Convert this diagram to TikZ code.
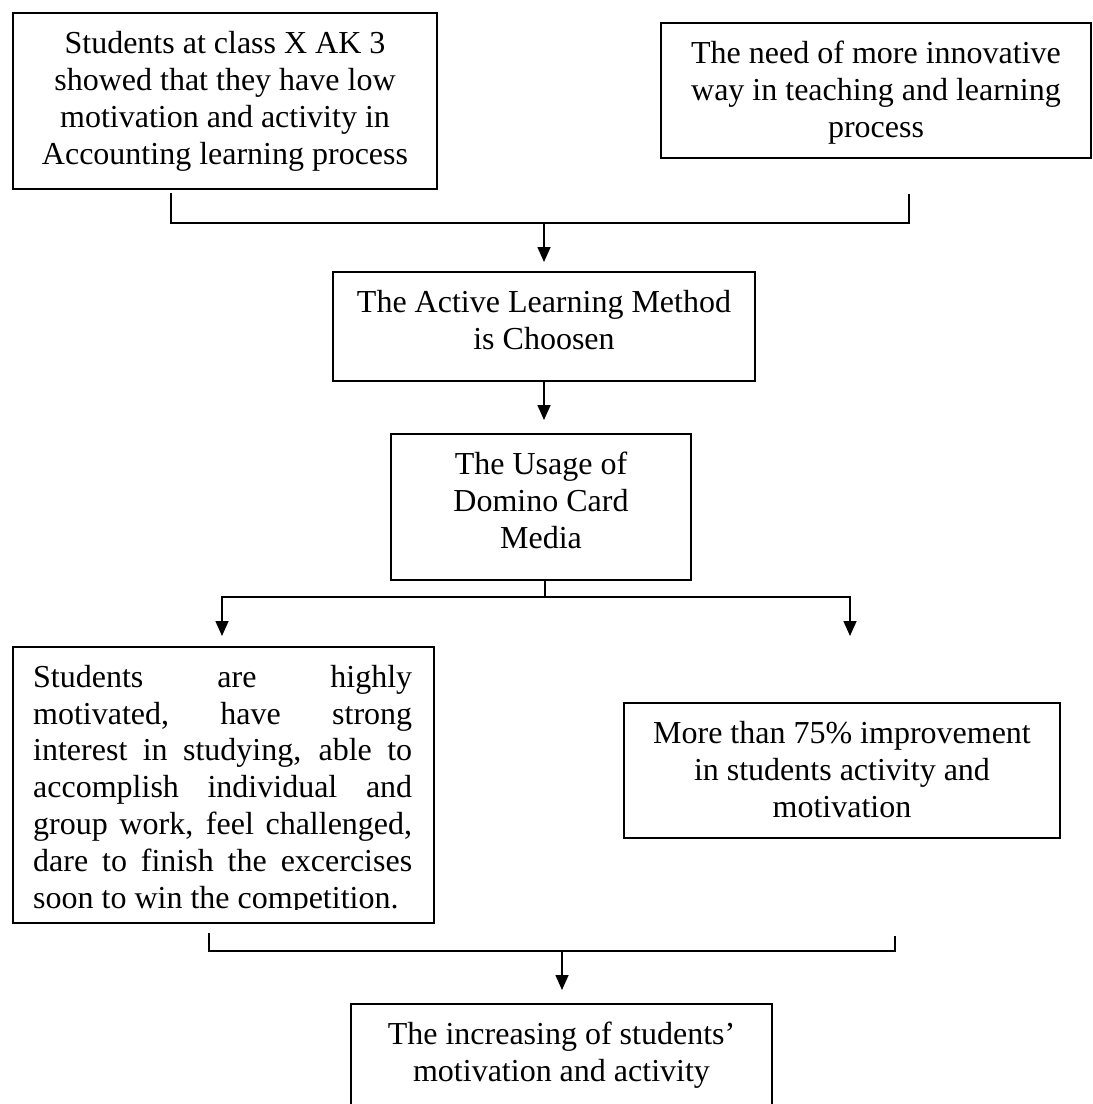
\documentclass[tikz,border=0pt]{standalone}
\usepackage{fontspec}
\setmainfont{Liberation Serif}
\usetikzlibrary{arrows.meta}
\begin{document}
\begin{tikzpicture}[x=1pt,y=-1pt,
  box/.style={draw, line width=1.6pt, inner sep=0pt, outer sep=0pt, anchor=north west},
  txt/.style={font=\fontsize{32}{36.8}\selectfont, align=center, inner sep=0pt, anchor=north},
  conn/.style={line width=1.6pt},
  arr/.style={conn, -{Triangle[length=15pt,width=13pt]}}]
\useasboundingbox (0,0) rectangle (1093,1104);
\clip (0,0) rectangle (1093,1104);
% boxes
\node[box, minimum width=424pt, minimum height=176pt] (b1) at (13,13) {};
\node[box, minimum width=430pt, minimum height=135pt] (b2) at (661,23) {};
\node[box, minimum width=422pt, minimum height=109pt] (b3) at (333,272) {};
\node[box, minimum width=300pt, minimum height=146pt] (b4) at (391,434) {};
\node[box, minimum width=421pt, minimum height=276pt] (b5) at (13,647) {};
\node[box, minimum width=436pt, minimum height=135pt] (b6) at (624,703) {};
\node[box, minimum width=421pt, minimum height=160pt] (b7) at (351,1004) {};
% texts
\node[txt] (t1) at (225,28) {\strut Students at class X AK 3\\\strut showed that they have low\\\strut motivation and activity in\\\strut Accounting learning process};
\node[txt] (t2) at (876,38) {\strut The need of more innovative\\\strut way in teaching and learning\\\strut process};
\node[txt] (t3) at (544,287) {\strut The Active Learning Method\\\strut is Choosen};
\node[txt] (t4) at (541,449) {\strut The Usage of\\\strut Domino Card\\\strut Media};
\begin{scope}
\clip (13,647) rectangle (434,909);
\node[txt, align=left, anchor=north west] (t5) at (33,661.24) {%
\hbox to 379pt{\strut Students\hfill are\hfill highly}\\
\hbox to 379pt{\strut motivated,\hfill have\hfill strong}\\
\hbox to 379pt{\strut interest in studying, able to}\\
\hbox to 379pt{\strut accomplish\hfill individual\hfill and}\\
\hbox to 379pt{\strut group work, feel challenged,}\\
\hbox to 379pt{\strut dare to finish the excercises}\\
\hbox{\strut soon to win the competition.}};
\end{scope}
\node[txt] (t6) at (842,718) {\strut More than 75\% improvement\\\strut in students activity and\\\strut motivation};
\node[txt] (t7) at (561.5,1019) {\strut The increasing of students’\\\strut motivation and activity};
% connectors
\coordinate (L1) at (171,193);
\coordinate (R1) at (909,194);
\coordinate (J1) at (544,223);
\draw[conn] (L1) |- (J1) -| (R1);
\draw[arr, shorten >=10pt] (J1) -- (J1 |- b3.north);
\draw[arr, shorten >=14pt] (b3.south -| J1) -- (J1 |- b4.north);
\coordinate (J2) at (545,597);
\coordinate (A1) at (222,636);
\coordinate (A2) at (850,636);
\draw[conn] (b4.south -| J2) -- (J2);
\draw[arr] (J2) -| (A1);
\draw[arr] (J2) -| (A2);
\coordinate (L2) at (209,933);
\coordinate (R2) at (895,936);
\coordinate (J3) at (562,951);
\draw[conn] (L2) |- (J3) -| (R2);
\draw[arr, shorten >=14pt] (J3) -- (J3 |- b7.north);
\end{tikzpicture}
\end{document}
